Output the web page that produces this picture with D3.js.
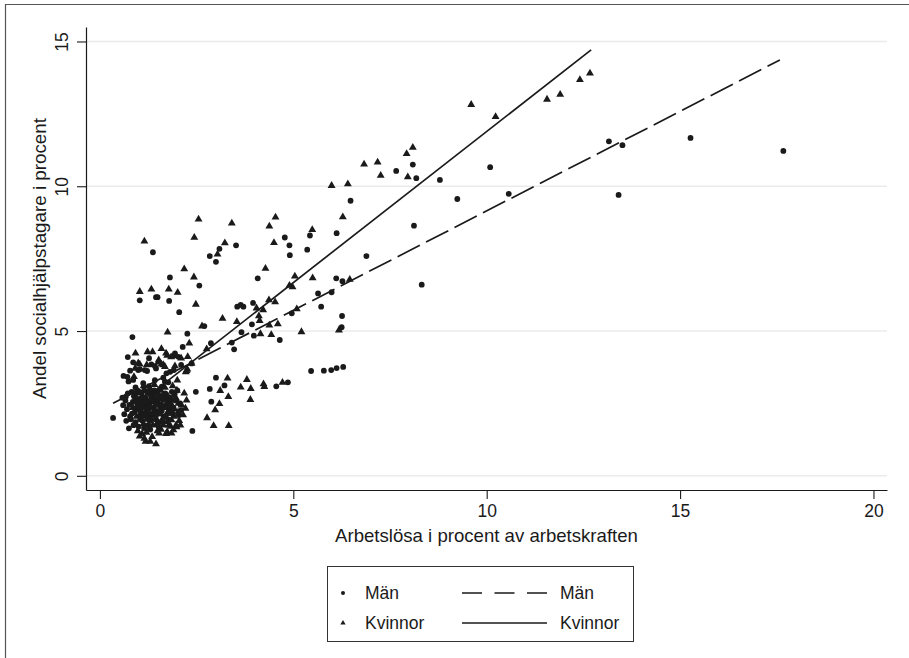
<!DOCTYPE html>
<html>
<head>
<meta charset="utf-8">
<script src="https://cdn.jsdelivr.net/npm/d3@7"></script>
<style>
  html, body { margin: 0; padding: 0; background: #fff; }
  svg { display: block; font-family: "Liberation Sans", Arial, Helvetica, sans-serif; }
</style>
</head>
<body>
<svg id="chart" width="909" height="658"></svg>
<script>
// Arbetslöshet (x) och andel socialhjälpstagare (y) per kommun, män och kvinnor
const menPoints = [
  [1.37,7.72],[2.84,7.59],[3.09,7.84],[3.52,7.96],[4.78,8.23],[4.90,7.96],[4.91,7.62],[5.36,7.81],
  [5.43,8.30],[6.48,9.50],[6.12,8.38],[6.89,7.59],[7.66,10.53],[8.09,10.75],[8.18,10.28],[8.79,10.22],
  [8.12,8.64],[8.32,6.60],[6.11,6.82],[6.27,6.72],[5.64,6.30],[5.99,6.34],[5.72,5.84],[4.96,5.61],
  [6.26,5.52],[6.25,5.13],[4.65,4.69],[5.46,3.62],[5.79,3.63],[5.98,3.65],[6.12,3.72],[6.29,3.76],
  [10.09,10.66],[9.24,9.56],[10.57,9.74],[13.16,11.55],[13.51,11.42],[13.41,9.70],[15.27,11.67],[17.67,11.22],
  [3.00,7.39],[4.08,6.82],[2.57,6.57],[3.55,5.84],[3.64,5.90],[3.71,5.84],[3.96,5.97],[3.93,5.23],
  [2.70,5.17],[3.66,4.96],[3.98,4.84],[3.41,4.60],[3.47,4.37],[2.87,4.58],[2.37,3.88],[3.00,3.39],
  [3.22,3.12],[2.84,3.00],[2.48,2.90],[2.88,2.56],[2.39,1.55],[4.56,3.09],[4.86,3.23],[1.81,6.85],
  [1.03,6.06],[1.45,6.17],[1.49,6.17],[1.79,6.04],[2.05,5.65],[2.26,4.91],[0.84,4.79],[2.14,4.45],
  [0.72,4.10],[1.27,4.06],[1.94,4.23],[0.86,3.92],[1.33,3.85],[1.45,3.71],[1.91,3.65],[2.10,3.83],
  [0.78,3.63],[1.03,3.68],[1.22,3.62],[0.61,3.45],[0.74,3.26],[1.77,3.23],[1.64,3.39],[1.91,4.15],
  [2.03,4.11],[1.42,3.79],[1.16,3.65],[1.81,3.59],[1.72,3.54],[0.71,3.42],[0.86,3.31],[1.68,3.25],
  [0.99,3.65],[0.75,1.64],[0.34,2.00],[0.63,2.13],[0.60,2.44],[0.67,2.73],[0.82,2.90],[0.95,2.88],
  [1.08,2.87],[1.45,2.90],[1.60,3.08],[1.93,2.82],[2.07,2.50],[2.10,2.27],[1.74,2.62],[0.70,2.30],
  [0.78,2.05],[0.85,2.55],[0.90,2.20],[0.92,1.85],[0.98,2.45],[1.02,2.65],[1.05,2.10],[1.10,1.90],
  [1.12,2.40],[1.18,2.70],[1.20,2.20],[1.25,1.75],[1.28,2.50],[1.32,2.05],[1.38,2.80],[1.40,2.30],
  [1.45,1.95],[1.50,2.55],[1.55,2.15],[1.58,2.75],[1.62,1.85],[1.66,2.40],[1.70,2.05],[1.78,2.30],
  [1.82,2.70],[1.88,2.15],[0.88,2.75],[1.00,1.70],[1.15,2.95],[1.35,2.60],[1.52,1.70],[0.95,2.35],
  [1.08,2.55],[1.22,2.05],[1.48,2.45],[1.60,2.25],[1.30,1.60],[0.80,1.95],
  [0.66,2.60],[0.72,2.85],[0.76,2.45],[0.83,2.15],[0.87,1.75],[0.93,2.62],[0.97,2.95],[1.01,2.30],
  [1.04,1.95],[1.09,2.72],[1.11,2.15],[1.14,1.65],[1.19,2.45],[1.23,2.90],[1.26,2.30],[1.29,1.90],
  [1.33,2.70],[1.36,2.15],[1.41,2.95],[1.43,2.60],[1.47,2.20],[1.51,1.85],[1.53,2.70],[1.57,2.45],
  [1.63,2.65],[1.65,2.05],[1.69,2.85],[1.72,2.45],[1.76,1.95],[1.84,2.45],[1.86,2.90],[1.90,2.35],
  [1.96,2.60],[2.00,2.95],[2.04,2.10],[1.55,3.00],[1.27,3.10],[0.92,3.05],[1.12,3.20],[1.42,3.30],
  [0.68,1.90],[0.58,2.70]
];

const womenPoints = [
  [1.15,8.10],[2.55,8.86],[2.44,8.23],[3.41,8.72],[3.23,8.04],[3.04,7.65],[4.38,8.62],[4.54,8.93],
  [4.50,8.05],[5.49,8.50],[5.99,10.02],[6.41,10.08],[6.28,8.94],[6.83,10.76],[7.18,10.83],[7.26,10.37],
  [8.09,11.34],[7.93,11.12],[7.96,10.32],[9.60,12.82],[10.23,12.40],[11.56,13.00],[11.90,13.17],[12.41,13.68],
  [12.67,13.90],[5.04,6.89],[5.50,6.83],[4.90,6.57],[4.98,6.52],[6.46,6.78],[5.09,5.76],[6.18,5.03],
  [5.21,4.97],[4.28,7.16],[2.43,6.86],[2.48,5.92],[4.05,5.79],[4.22,5.73],[4.53,6.00],[4.37,6.07],
  [3.17,5.43],[3.54,5.32],[4.11,5.52],[4.13,5.36],[4.60,5.24],[4.38,5.20],[2.64,5.17],[4.15,4.90],
  [4.43,4.87],[2.76,4.38],[2.37,3.88],[3.30,3.37],[3.11,2.94],[3.32,2.73],[3.09,2.49],[2.98,2.27],
  [2.77,2.00],[2.94,1.73],[3.33,1.73],[3.80,3.32],[3.64,3.06],[3.90,3.01],[4.23,3.17],[4.25,3.08],
  [3.89,2.63],[4.72,3.22],[2.18,7.14],[1.03,6.36],[1.33,6.44],[1.78,6.44],[2.01,6.33],[1.75,4.96],
  [2.31,4.58],[0.92,4.23],[1.23,4.28],[1.36,4.28],[1.59,4.39],[1.74,4.16],[1.84,4.10],[2.10,4.06],
  [1.03,3.85],[1.52,4.00],[1.64,3.83],[0.91,3.71],[2.24,3.63],[0.88,3.42],[1.71,4.23],[2.27,4.11],
  [0.99,3.89],[1.51,3.92],[1.59,3.85],[1.68,3.77],[1.94,3.79],[1.21,3.83],[2.22,3.59],[2.26,3.68],
  [1.03,1.37],[1.18,1.19],[1.30,1.19],[1.15,1.29],[1.35,1.35],[1.53,1.47],[1.74,1.52],[1.85,1.47],
  [1.97,1.75],[1.75,1.87],[1.30,3.02],[2.24,2.61],[2.21,2.33],[1.86,2.33],[1.85,1.93],[1.98,1.69],
  [1.90,1.58],[2.11,2.44],[1.45,1.10],[0.85,2.35],[0.95,2.05],[1.00,2.60],[1.07,2.25],[1.13,1.80],
  [1.17,2.50],[1.24,2.85],[1.27,2.15],[1.34,1.95],[1.40,2.55],[1.43,2.10],[1.50,2.85],[1.56,2.35],
  [1.61,1.95],[1.67,2.60],[1.73,2.15],[1.80,2.50],[1.92,2.05],[1.96,2.70],[2.02,2.20],[1.10,2.70],
  [1.28,1.65],[1.58,1.60],[0.90,2.80],[1.38,2.35],[1.63,2.80],[1.21,2.35],[1.47,1.80],[1.78,1.75],
  [2.05,1.90],
  [0.98,1.55],[1.05,2.85],[1.09,1.45],[1.12,2.05],[1.16,2.65],[1.20,1.50],[1.25,2.55],[1.31,2.35],
  [1.33,2.90],[1.37,1.75],[1.42,2.75],[1.46,2.45],[1.49,1.55],[1.54,2.15],[1.57,2.95],[1.60,2.45],
  [1.64,1.75],[1.69,2.35],[1.71,1.45],[1.76,2.75],[1.81,2.15],[1.83,1.70],[1.88,2.60],[1.93,2.30],
  [1.99,2.95],[2.03,2.50],[2.08,1.75],[2.15,2.10],[2.18,2.85],[1.22,1.95],[1.52,2.65],[1.02,2.40],
  [0.93,2.55],[1.68,3.05],[1.41,3.15],[1.88,3.10],[1.13,3.10],[2.00,3.30]
];

// Anpassade regressionslinjer (start- och slutpunkt)
const menFit = [[0.34, 2.51], [17.58, 14.36]];
const womenFit = [[0.85, 2.34], [12.70, 14.71]];

const xTicks = [0, 5, 10, 15, 20];
const yTicks = [0, 5, 10, 15];
const xTitle = "Arbetslösa i procent av arbetskraften";
const yTitle = "Andel socialhjälpstagare i procent";
const legendLabels = ["Män", "Kvinnor"];

const ink = "#1a1a1a";
const svg = d3.select("#chart");

// Yttre ram (vänster- och överkant)
svg.append("path")
  .attr("d", "M5.5,658 V4.5 H909")
  .attr("fill", "none").attr("stroke", "#555").attr("stroke-width", 1.2);

const x = d3.scaleLinear().domain([-0.36, 20.35]).range([86, 887]);
const y = d3.scaleLinear().domain([-0.49, 15.5]).range([490, 27]);

// Stödlinjer
svg.append("g").selectAll("line").data(yTicks).join("line")
  .attr("x1", x.range()[0]).attr("x2", x.range()[1])
  .attr("y1", d => y(d)).attr("y2", d => y(d))
  .attr("stroke", "#ebebeb").attr("stroke-width", 1.6);

// Axlar
const xAxis = svg.append("g").attr("transform", `translate(0,${y.range()[0]})`)
  .call(d3.axisBottom(x).tickValues(xTicks).tickSize(9).tickSizeOuter(0).tickPadding(4));
const yAxis = svg.append("g").attr("transform", `translate(${x.range()[0]},0)`)
  .call(d3.axisLeft(y).tickValues(yTicks).tickSize(9).tickSizeOuter(0));

[xAxis, yAxis].forEach(g => {
  g.select(".domain").attr("stroke", ink).attr("stroke-width", 1.2);
  g.selectAll(".tick line").attr("stroke", ink).attr("stroke-width", 1.1);
  g.selectAll(".tick text").attr("fill", ink).attr("font-size", 17.5)
    .attr("font-family", "Liberation Sans, Arial, sans-serif");
});
xAxis.selectAll(".tick text").attr("dy", null).attr("y", 27);
yAxis.selectAll(".tick text")
  .attr("transform", "rotate(-90)")
  .attr("text-anchor", "middle")
  .attr("x", 0).attr("dy", null).attr("y", -18);

// Axeltitlar
svg.append("text")
  .attr("x", (x.range()[0] + x.range()[1]) / 2).attr("y", 542)
  .attr("text-anchor", "middle").attr("font-size", 18.6).attr("fill", ink)
  .text(xTitle);
svg.append("text")
  .attr("transform", `translate(46,${(y.range()[0] + y.range()[1]) / 2}) rotate(-90)`)
  .attr("text-anchor", "middle").attr("font-size", 18.8).attr("fill", ink)
  .text(yTitle);

// Punkter
const tri = d3.symbol().type(d3.symbolTriangle).size(27);
svg.append("g").selectAll("circle").data(menPoints).join("circle")
  .attr("cx", d => x(d[0])).attr("cy", d => y(d[1])).attr("r", 2.9)
  .attr("fill", ink);
svg.append("g").selectAll("path").data(womenPoints).join("path")
  .attr("transform", d => `translate(${x(d[0])},${y(d[1])})`)
  .attr("d", tri).attr("fill", ink);

// Regressionslinjer
const line = d3.line().x(d => x(d[0])).y(d => y(d[1]));
svg.append("path").datum(menFit).attr("d", line)
  .attr("fill", "none").attr("stroke", ink).attr("stroke-width", 1.7)
  .attr("stroke-dasharray", "25,7");
svg.append("path").datum(womenFit).attr("d", line)
  .attr("fill", "none").attr("stroke", ink).attr("stroke-width", 1.7);

// Teckenförklaring
const lg = svg.append("g");
lg.append("rect").attr("x", 327.5).attr("y", 566.5).attr("width", 306).attr("height", 75)
  .attr("fill", "#fff").attr("stroke", "#333").attr("stroke-width", 1);
const rows = [593, 623];
lg.append("circle").attr("cx", 343).attr("cy", rows[0]).attr("r", 2).attr("fill", ink);
lg.append("path").attr("transform", `translate(343,${rows[1]})`)
  .attr("d", d3.symbol().type(d3.symbolTriangle).size(12)).attr("fill", ink);
lg.append("line").attr("x1", 462).attr("x2", 547).attr("y1", rows[0]).attr("y2", rows[0])
  .attr("stroke", ink).attr("stroke-width", 1.5).attr("stroke-dasharray", "20,12.5");
lg.append("line").attr("x1", 462).attr("x2", 547).attr("y1", rows[1]).attr("y2", rows[1])
  .attr("stroke", ink).attr("stroke-width", 1.5);
legendLabels.forEach((t, i) => {
  lg.append("text").attr("x", 365).attr("y", rows[i] + 6).attr("font-size", 17.5)
    .attr("fill", ink).text(t);
  lg.append("text").attr("x", 560).attr("y", rows[i] + 6).attr("font-size", 17.5)
    .attr("fill", ink).text(t);
});
</script>
</body>
</html>
